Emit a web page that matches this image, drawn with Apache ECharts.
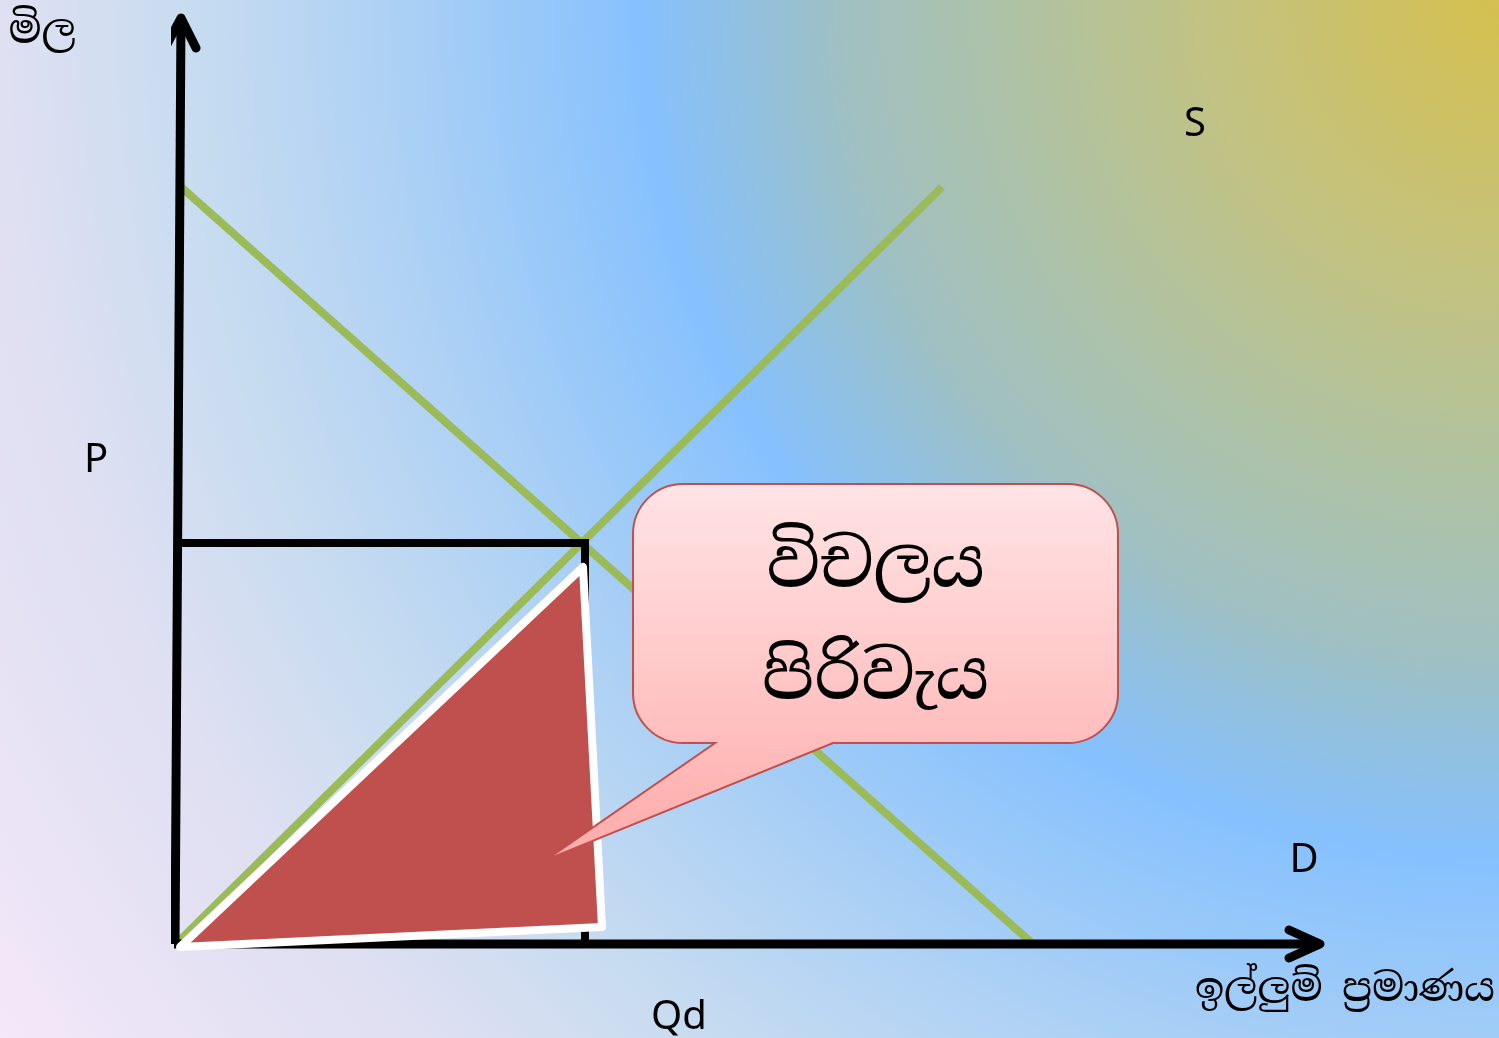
<!DOCTYPE html>
<html>
<head>
<meta charset="utf-8">
<script src="https://cdn.jsdelivr.net/npm/echarts@6/dist/echarts.min.js"></script>
<style>
html, body { margin: 0; padding: 0; overflow: hidden; }
#main { width: 1499px; height: 1038px; }
</style>
</head>
<body>
<div id="main"></div>
<script>
// quantity (x) and price (y) units, origin where the two axes meet
var priceAxis = [[-0.1, 0], [0.5, 92.6]];
var priceArrow = [[-1.1, 89.6], [0.5, 92.6], [2.0, 89.6]];
var qtyAxis = [[-0.2, 0], [114.4, 0]];
var qtyArrow = [[111.3, 1.4], [114.4, 0], [111.3, -1.4]];

var demand = [[0.5, 75.7], [85.7, 0]];
var supply = [[0, 0], [76.6, 75.7]];
var equilibrium = [[0, 40.1], [40.9, 40.1], [40.9, 0]];

// shaded "variable cost" triangle
var variableCost = [[0.4, -0.3], [40.7, 37.7], [42.6, 1.7]];

// callout box: left, top, right, bottom  + tail (base left, tip, base right)
var calloutBox = [45.7, 46.0, 94.2, 20.1];
var calloutTail = [[53.9, 20.1], [37.0, 8.4], [65.7, 20.1]];
var calloutText = ['විචලය', 'පිරිවැය'];

var labelPrice = 'මිල';
var labelQty = 'ඉල්ලුම් ප්‍රමාණය';
var labelS = 'S', labelD = 'D', labelP = 'P', labelQd = 'Qd';

var sinhalaFont = '"Noto Serif Sinhala", "Noto Sans Sinhala", "Iskoola Pota", serif';
var latinFont = '"Noto Sans", "Open Sans", sans-serif';

function lineSeries(data, color, width, cap, z) {
    return {
        type: 'line',
        data: data,
        symbol: 'none',
        silent: true,
        clip: false,
        animation: false,
        z: z || 2,
        lineStyle: {color: color, width: width, cap: cap || 'butt', join: cap === 'round' ? 'round' : 'miter', opacity: 1}
    };
}

function calloutPath(api) {
    var tl = api.coord([calloutBox[0], calloutBox[1]]);
    var br = api.coord([calloutBox[2], calloutBox[3]]);
    var t0 = api.coord(calloutTail[0]);
    var tip = api.coord(calloutTail[1]);
    var t1 = api.coord(calloutTail[2]);
    var r = 50;
    var L = tl[0], T = tl[1], R = br[0], B = br[1];
    var a = ' A' + r + ' ' + r + ' 0 0 1 ';
    return 'M' + (L + r) + ' ' + T +
        ' L' + (R - r) + ' ' + T + a + R + ' ' + (T + r) +
        ' L' + R + ' ' + (B - r) + a + (R - r) + ' ' + B +
        ' L' + t1[0] + ' ' + B +
        ' L' + tip[0] + ' ' + tip[1] +
        ' L' + t0[0] + ' ' + B +
        ' L' + (L + r) + ' ' + B + a + L + ' ' + (B - r) +
        ' L' + L + ' ' + (T + r) + a + (L + r) + ' ' + T + ' Z';
}

function textEl(text, x, y, font) {
    return {
        type: 'text', x: x, y: y, z: 20,
        style: {text: text, font: font, fill: '#000', align: 'center', verticalAlign: 'middle',
            textAlign: 'center', textVerticalAlign: 'middle'}
    };
}

var myChart = echarts.init(document.getElementById('main'));
var option = {
    backgroundColor: {
        type: 'radial', x: 1499, y: 0, r: 1823, global: true,
        colorStops: [
            {offset: 0, color: '#d5c04f'},
            {offset: 0.16, color: '#c2c282'},
            {offset: 0.27, color: '#aec2a6'},
            {offset: 0.36, color: '#a0c0c2'},
            {offset: 0.41, color: '#92c0de'},
            {offset: 0.47, color: '#86c1fe'},
            {offset: 0.55, color: '#9ccaf8'},
            {offset: 0.62, color: '#b0d2f4'},
            {offset: 0.72, color: '#c8dcf0'},
            {offset: 0.82, color: '#dfe0f2'},
            {offset: 0.87, color: '#e3e1f3'},
            {offset: 1, color: '#f4e8fa'}
        ]
    },
    animation: false,
    grid: {left: 176, top: 14, width: 1150, height: 930},
    xAxis: {type: 'value', min: 0, max: 115, show: false},
    yAxis: {type: 'value', min: 0, max: 93, show: false},
    series: [
        lineSeries(demand, '#9bbb59', 8),
        lineSeries(supply, '#9bbb59', 8),
        lineSeries(priceAxis, '#000', 9),
        lineSeries(priceArrow, '#000', 9, 'round'),
        lineSeries(qtyAxis, '#000', 9),
        lineSeries(qtyArrow, '#000', 9, 'round'),
        lineSeries(equilibrium, '#000', 8),
        {
            type: 'custom',
            silent: true,
            clip: false,
            z: 10,
            data: [0],
            renderItem: function (params, api) {
                var pts = variableCost.map(function (p) { return api.coord(p); });
                return {
                    type: 'polygon',
                    z2: 10,
                    shape: {points: pts},
                    style: {fill: '#c0504d', stroke: '#ffffff', lineWidth: 8, lineJoin: 'round'}
                };
            }
        },
        {
            type: 'custom',
            silent: true,
            clip: false,
            z: 12,
            data: [0],
            renderItem: function (params, api) {
                var tl = api.coord([calloutBox[0], calloutBox[1]]);
                var br = api.coord([calloutBox[2], calloutBox[3]]);
                var cx = (tl[0] + br[0]) / 2;
                return {
                    type: 'group',
                    children: [
                        {
                            type: 'path',
                            z2: 10,
                            shape: {pathData: calloutPath(api)},
                            style: {
                                fill: {
                                    type: 'linear', x: 0, y: 0, x2: 0, y2: 1,
                                    colorStops: [
                                        {offset: 0, color: '#ffe4e6'},
                                        {offset: 0.69, color: '#ffbdbc'},
                                        {offset: 1, color: '#ffaaa9'}
                                    ]
                                },
                                stroke: '#c0504d',
                                lineWidth: 2
                            }
                        },
                        {
                            type: 'text',
                            z2: 11,
                            style: {
                                text: calloutText[0], x: cx, y: tl[1] + 84,
                                font: '68px ' + sinhalaFont, fill: '#000',
                                align: 'center', verticalAlign: 'middle',
                                textAlign: 'center', textVerticalAlign: 'middle'
                            }
                        },
                        {
                            type: 'text',
                            z2: 11,
                            style: {
                                text: calloutText[1], x: cx, y: tl[1] + 196,
                                font: '68px ' + sinhalaFont, fill: '#000',
                                align: 'center', verticalAlign: 'middle',
                                textAlign: 'center', textVerticalAlign: 'middle'
                            }
                        }
                    ]
                };
            }
        }
    ],
    graphic: [
        textEl(labelPrice, 42, 32, '40px ' + sinhalaFont),
        textEl(labelQty, 1345, 991, '39px ' + sinhalaFont),
        textEl(labelS, 1195, 125, '40px ' + latinFont),
        textEl(labelD, 1304, 861, '40px ' + latinFont),
        textEl(labelP, 96, 461, '40px ' + latinFont),
        textEl(labelQd, 679, 1018, '40px ' + latinFont)
    ]
};
myChart.setOption(option);
</script>
</body>
</html>
